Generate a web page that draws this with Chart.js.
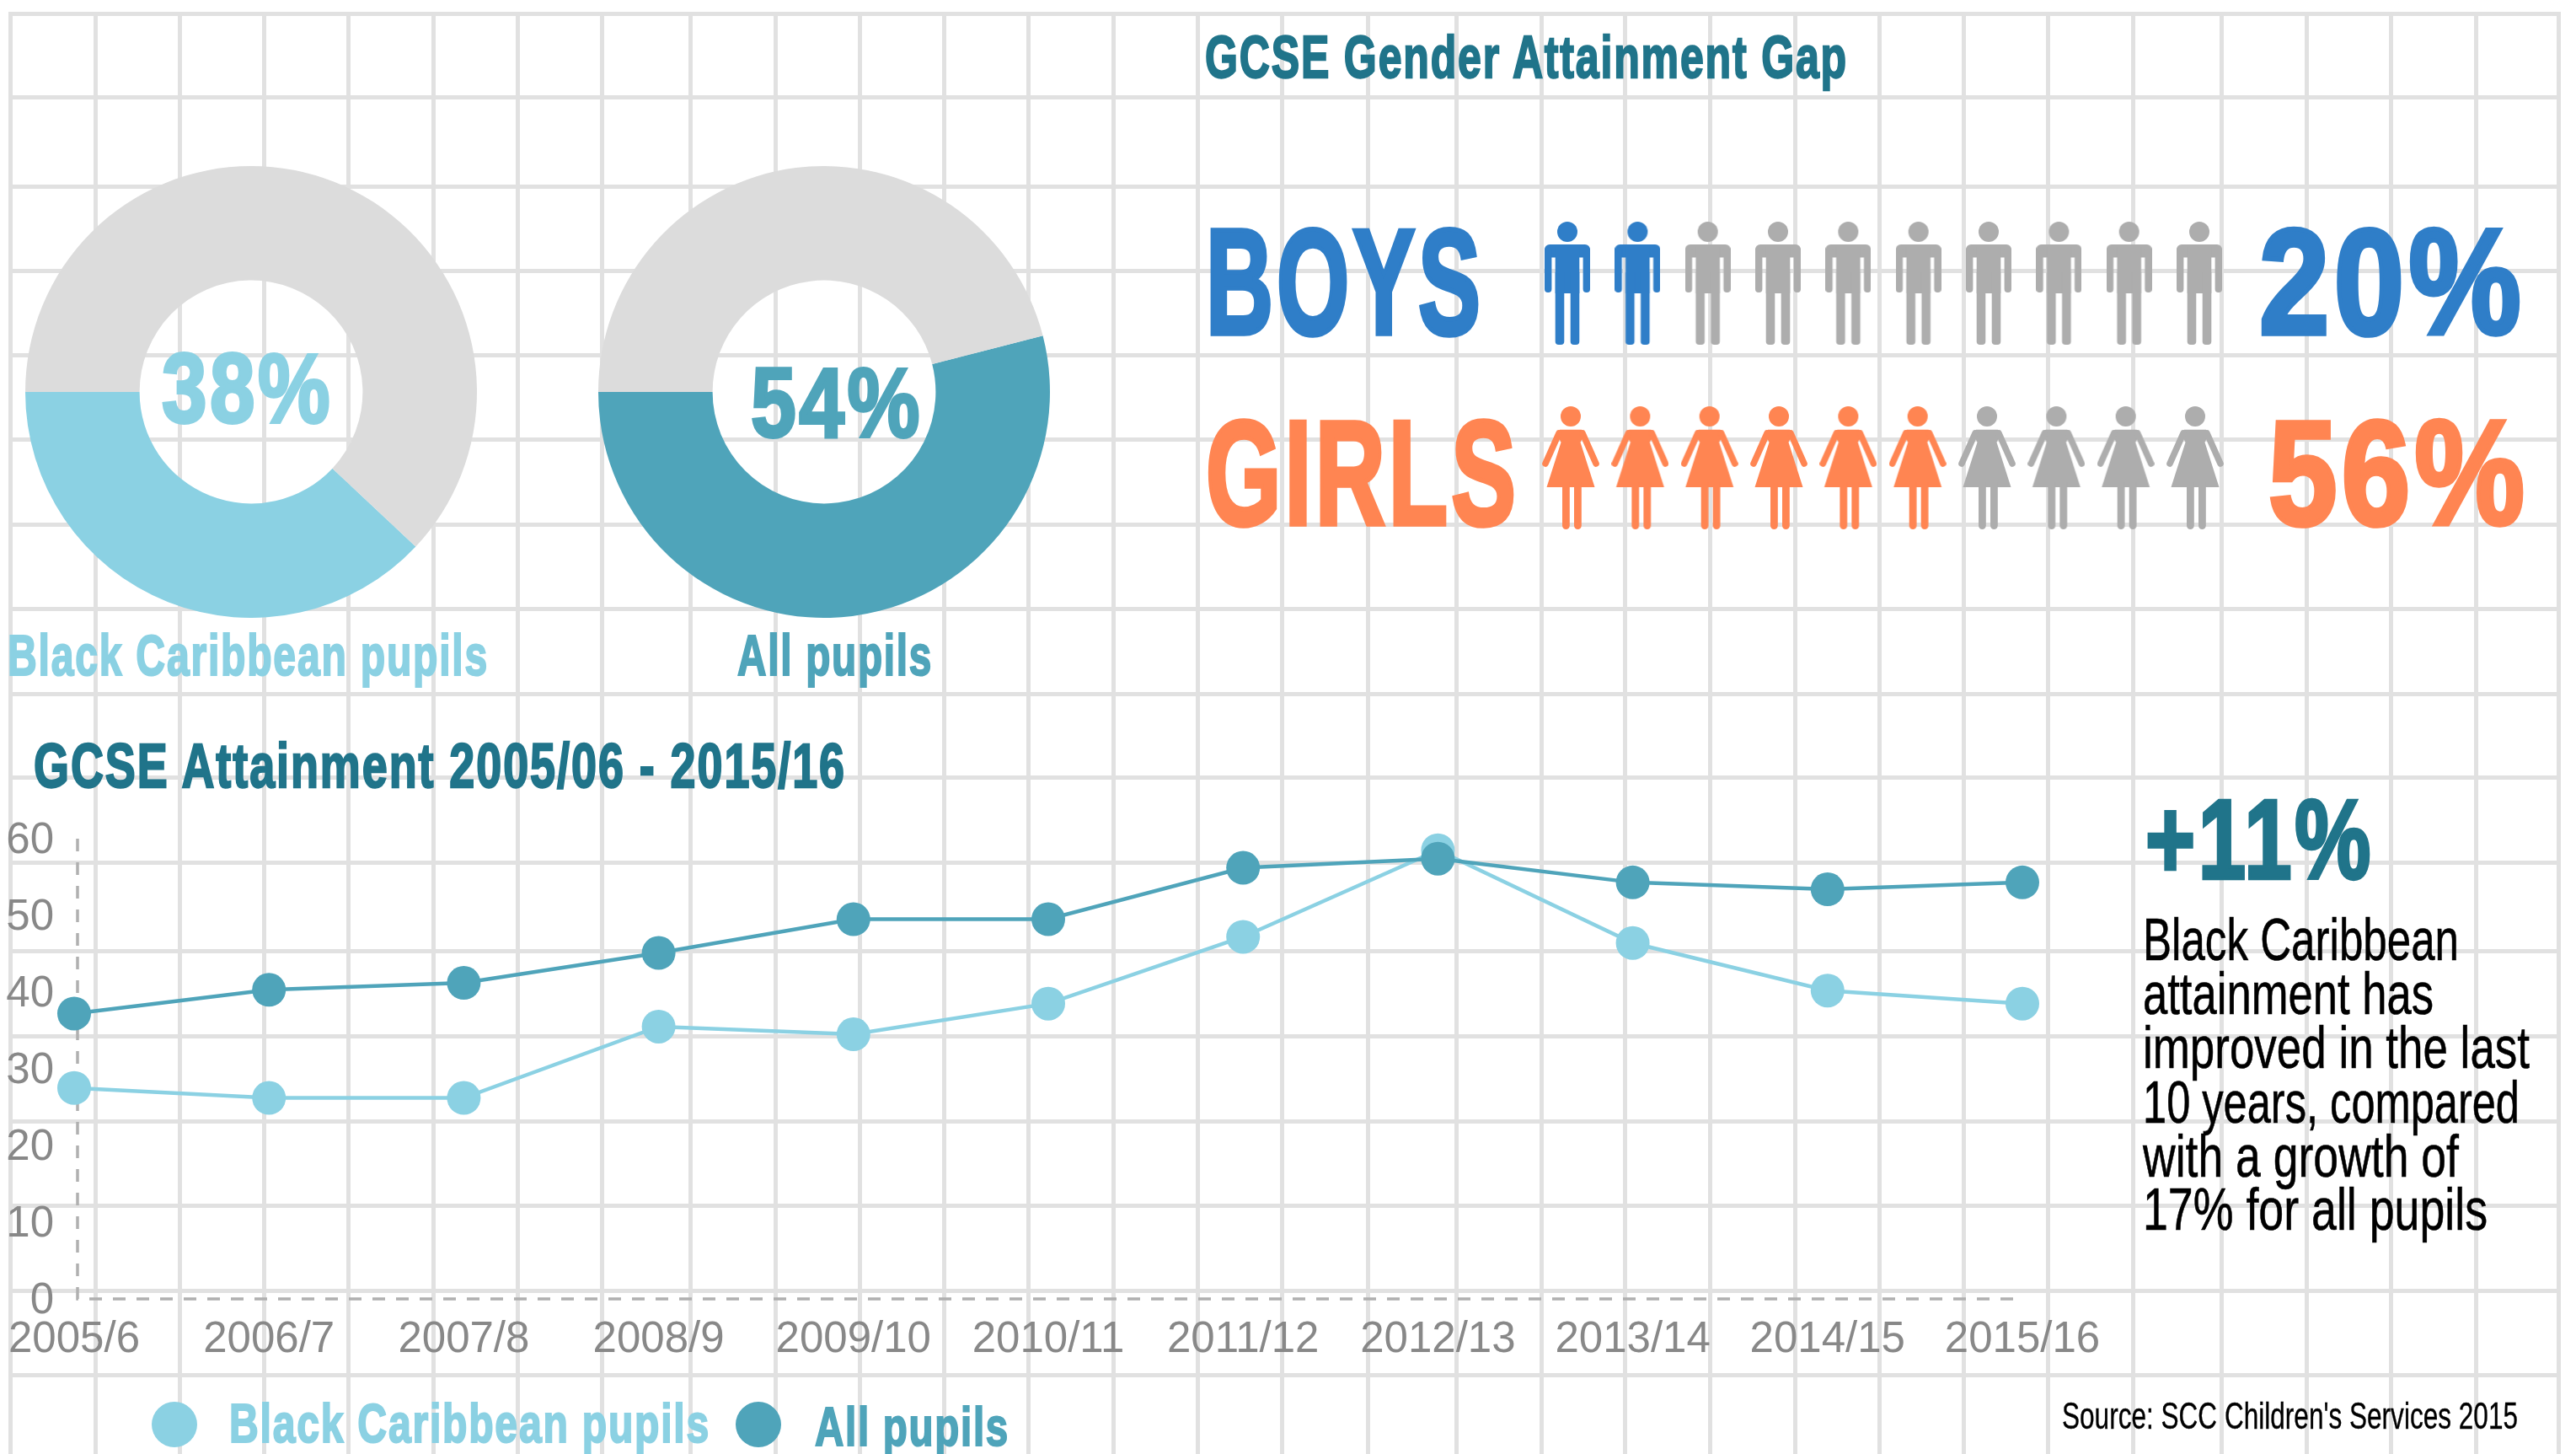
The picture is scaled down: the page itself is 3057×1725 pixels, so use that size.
<!DOCTYPE html>
<html>
<head>
<meta charset="utf-8">
<title>GCSE attainment</title>
<script src="https://cdn.jsdelivr.net/npm/chart.js@4"></script>
<style>
html, body { margin: 0; background: #fff; }
#page { position: relative; width: 3057px; height: 1725px; overflow: hidden; }
canvas { position: absolute; }
.t { position: absolute; white-space: nowrap; line-height: 1; transform-origin: left top; font-family: "Liberation Sans Narrow", "Liberation Sans", sans-serif; }
.dot { position: absolute; border-radius: 50%; }
</style>
</head>
<body>
<div id="page">
  <canvas id="grid" width="3057" height="1725" style="left:0;top:0"></canvas>
  <canvas id="donutBlack" width="536" height="536" style="left:30px;top:197px"></canvas>
  <canvas id="donutAll" width="536" height="536" style="left:710px;top:197px"></canvas>
  <canvas id="boys" width="834" height="146" style="left:1818px;top:263px"></canvas>
  <canvas id="girls" width="825" height="148" style="left:1822px;top:482px"></canvas>
  <canvas id="trend" width="3057" height="1725" style="left:0;top:0"></canvas>
</div>
<script>
// data
const years = ['2005/6', '2006/7', '2007/8', '2008/9', '2009/10', '2010/11', '2011/12', '2012/13', '2013/14', '2014/15', '2015/16'];
const blackCaribbean = [27.5, 26.2, 26.2, 35.5, 34.5, 38.5, 47.2, 58.5, 46.4, 40.2, 38.5];
const allPupils = [37.2, 40.3, 41.2, 45.1, 49.5, 49.5, 56.2, 57.4, 54.3, 53.4, 54.3];
const blackShare = 38;
const allShare = 54;
const boysPeople = [1, 1, 0, 0, 0, 0, 0, 0, 0, 0];
const girlsPeople = [1, 1, 1, 1, 1, 1, 0, 0, 0, 0];
const gridColumns = [12, 113, 213, 313, 413, 514, 614, 714, 820, 920, 1020, 1120, 1220, 1321, 1421, 1521, 1623, 1729, 1829, 1928, 2029, 2130, 2230, 2330, 2430, 2531, 2636, 2737, 2837, 2938, 3036];
const gridRows = [16, 115, 221, 321, 421, 521, 622, 722, 823, 922, 1023, 1128, 1229, 1330, 1430, 1531, 1631];

const LIGHT = '#8bd1e3';
const TEAL = '#4fa4ba';
const DARK = '#20748a';
const BLUE = '#2f7ec8';
const ORANGE = '#ff8552';
const GREY = '#adadad';
const DONUT_GREY = '#dcdcdc';
const LINE_GREY = '#e1e1e1';

Chart.defaults.animation = false;
Chart.defaults.responsive = false;
Chart.defaults.plugins.legend.display = false;
Chart.defaults.plugins.tooltip.enabled = false;

// background squared paper
new Chart(document.getElementById('grid'), {
    type: 'scatter',
    data: { datasets: [{ data: [] }] },
    options: {
        layout: { padding: { left: 10, top: 14, right: 19, bottom: 0 } },
        scales: {
            x: {
                type: 'linear', min: 10, max: 3038,
                afterBuildTicks: s => { s.ticks = gridColumns.map(v => ({ value: v })); },
                ticks: { display: false },
                border: { display: false },
                grid: { color: LINE_GREY, lineWidth: 5, drawTicks: false }
            },
            y: {
                type: 'linear', reverse: true, min: 14, max: 1725,
                afterBuildTicks: s => { s.ticks = gridRows.map(v => ({ value: v })); },
                ticks: { display: false },
                border: { display: false },
                grid: { color: LINE_GREY, lineWidth: 5, drawTicks: false }
            }
        }
    }
});

function donut(id, share, color) {
    new Chart(document.getElementById(id), {
        type: 'doughnut',
        data: {
            labels: ['Achieved', 'Other'],
            datasets: [{ data: [share, 100 - share], backgroundColor: [color, DONUT_GREY], borderWidth: 0 }]
        },
        options: { cutout: '49.4%', rotation: 270 - share * 3.6 }
    });
}
donut('donutBlack', blackShare, LIGHT);
donut('donutAll', allShare, TEAL);

// pictogram icons, used as point styles
function iconCanvas(w, h, draw, color) {
    const c = document.createElement('canvas');
    c.width = w;
    c.height = h;
    const ctx = c.getContext('2d');
    ctx.fillStyle = color;
    ctx.strokeStyle = color;
    draw(ctx);
    return c;
}
function roundBox(ctx, x, y, w, h, r) {
    ctx.beginPath();
    ctx.roundRect(x, y, w, h, r);
    ctx.fill();
}
function drawMan(ctx) {
    ctx.beginPath();
    ctx.arc(27, 12, 12, 0, Math.PI * 2);
    ctx.fill();
    roundBox(ctx, 0, 27, 54, 15.5, [6, 6, 0, 0]);
    roundBox(ctx, 0, 30, 8.4, 54, 4);
    roundBox(ctx, 45.6, 30, 8.4, 54, 4);
    ctx.fillRect(12.7, 30, 28.6, 55);
    roundBox(ctx, 12.7, 60, 10.6, 86, [0, 0, 4, 4]);
    roundBox(ctx, 30.7, 60, 10.6, 86, [0, 0, 4, 4]);
}
function drawWoman(ctx) {
    ctx.beginPath();
    ctx.arc(34, 12, 12, 0, Math.PI * 2);
    ctx.fill();
    ctx.beginPath();
    ctx.moveTo(17, 32);
    ctx.lineTo(21, 27.7);
    ctx.lineTo(47, 27.7);
    ctx.lineTo(51, 32);
    ctx.lineTo(45.5, 42.7);
    ctx.lineTo(62.5, 96);
    ctx.lineTo(5.5, 96);
    ctx.lineTo(22.5, 42.7);
    ctx.closePath();
    ctx.fill();
    ctx.lineWidth = 7.6;
    ctx.lineCap = 'round';
    ctx.beginPath();
    ctx.moveTo(20, 32);
    ctx.lineTo(4, 68);
    ctx.moveTo(48, 32);
    ctx.lineTo(64, 68);
    ctx.stroke();
    roundBox(ctx, 24, 90, 8.8, 56, [0, 0, 4.4, 4.4]);
    roundBox(ctx, 38, 90, 8.8, 56, [0, 0, 4.4, 4.4]);
}

function people(id, marks, onIcon, offIcon) {
    new Chart(document.getElementById(id), {
        type: 'line',
        data: {
            labels: marks.map((m, i) => i + 1),
            datasets: [{
                data: marks.map(() => 1),
                showLine: false,
                clip: false,
                pointRadius: 40,
                pointStyle: ctx => (marks[ctx.dataIndex] ? onIcon : offIcon)
            }]
        },
        options: {
            layout: { padding: { left: 42, right: 42 } },
            scales: {
                x: { display: false },
                y: { display: false, min: 0, max: 2 }
            }
        }
    });
}
people('boys', boysPeople, iconCanvas(54, 146, drawMan, BLUE), iconCanvas(54, 146, drawMan, GREY));
people('girls', girlsPeople, iconCanvas(68, 148, drawWoman, ORANGE), iconCanvas(68, 148, drawWoman, GREY));

// dashed axis lines, four pixels in from the first point like the original
const dashedAxes = {
    id: 'dashedAxes',
    beforeDatasetsDraw(chart) {
        const { ctx, scales: { x, y } } = chart;
        ctx.save();
        ctx.strokeStyle = '#b0b0b0';
        ctx.lineWidth = 3.5;
        ctx.setLineDash([15, 13]);
        ctx.beginPath();
        ctx.moveTo(x.left + 4, y.top);
        ctx.lineTo(x.left + 4, y.bottom);
        ctx.lineTo(x.right, y.bottom);
        ctx.stroke();
        ctx.restore();
    }
};

new Chart(document.getElementById('trend'), {
    type: 'line',
    data: {
        labels: years,
        datasets: [
            { label: 'All pupils', data: allPupils, borderColor: TEAL, backgroundColor: TEAL, borderWidth: 4.5, pointRadius: 20, pointBorderWidth: 0, tension: 0, clip: false },
            { label: 'Black Caribbean pupils', data: blackCaribbean, borderColor: LIGHT, backgroundColor: LIGHT, borderWidth: 4.5, pointRadius: 20, pointBorderWidth: 0, tension: 0, clip: false }
        ]
    },
    options: {
        layout: { padding: { top: 995, right: 657 } },
        scales: {
            x: {
                // no room kept for the first label, it hangs under the y ticks
                afterFit: s => { s.height = 184; s.paddingLeft = 0; s.paddingRight = 0; },
                grid: { display: false, drawTicks: false },
                border: { display: false },
                ticks: { color: '#888888', padding: 18, maxRotation: 0, autoSkip: false, font: { family: '"Liberation Sans"', size: 51 } }
            },
            y: {
                min: 0,
                max: 60,
                afterFit: s => { s.width = 88; s.paddingTop = 0; s.paddingBottom = 0; },
                grid: { display: false, drawTicks: false },
                border: { display: false },
                ticks: { stepSize: 10, color: '#888888', padding: 24, labelOffset: 3, font: { family: '"Liberation Sans"', size: 51 } }
            }
        }
    },
    plugins: [dashedAxes]
});

// all the infographic text, fitted to the width it has in the original
const page = document.getElementById('page');
function label(text, x, baseline, width, capHeight, color, weight) {
    const size = capHeight / 0.716;
    const el = document.createElement('div');
    el.className = 't';
    el.textContent = text;
    el.style.fontSize = size + 'px';
    el.style.fontWeight = weight;
    el.style.color = color;
    el.style.left = x + 'px';
    el.style.top = (baseline - 0.8465 * size) + 'px';
    el.style.letterSpacing = (weight === 700 ? capHeight * 0.05 : 0) + 'px';
    el.style.webkitTextStroke = (weight === 700 ? capHeight * 0.045 : capHeight * 0.012) + 'px ' + color;
    page.appendChild(el);
    el.style.transform = 'scaleX(' + (width / el.getBoundingClientRect().width) + ')';
}
function dot(cx, cy, d, color) {
    const el = document.createElement('div');
    el.className = 'dot';
    el.style.cssText = 'left:' + (cx - d / 2) + 'px;top:' + (cy - d / 2) + 'px;width:' + d + 'px;height:' + d + 'px;background:' + color;
    page.appendChild(el);
}

label('GCSE Gender Attainment Gap', 1430, 92, 763, 51, DARK, 700);
label('BOYS', 1431, 396, 330, 127, BLUE, 700);
label('20%', 2681, 396, 316, 127, BLUE, 700);
label('GIRLS', 1431, 622, 372, 126, ORANGE, 700);
label('56%', 2692, 622, 309, 126, ORANGE, 700);
label('38%', 192, 501, 203, 84, LIGHT, 700);
label('54%', 891, 518, 204, 84, TEAL, 700);
label('Black Caribbean pupils', 9, 802, 571, 49, LIGHT, 700);
label('All pupils', 875, 802, 232, 49, TEAL, 700);
label('GCSE Attainment 2005/06 - 2015/16', 40, 935, 964, 53, DARK, 700);
label('+11%', 2546, 1042, 271, 96, DARK, 700);
label('Black Caribbean', 2543, 1140, 375, 50, '#000', 400);
label('attainment has', 2543, 1204, 345, 50, '#000', 400);
label('improved in the last', 2543, 1268, 459, 50, '#000', 400);
label('10 years, compared', 2543, 1333, 447, 50, '#000', 400);
label('with a growth of', 2543, 1397, 375, 50, '#000', 400);
label('17% for all pupils', 2543, 1460, 409, 50, '#000', 400);
label('Source: SCC Children\'s Services 2015', 2447, 1696, 541, 32, '#000', 400);
dot(207, 1690, 54, LIGHT);
dot(900, 1690, 54, TEAL);
label('Black Caribbean pupils', 272, 1712, 571, 47, LIGHT, 700);
label('All pupils', 967, 1716, 231, 47, TEAL, 700);
</script>
</body>
</html>
